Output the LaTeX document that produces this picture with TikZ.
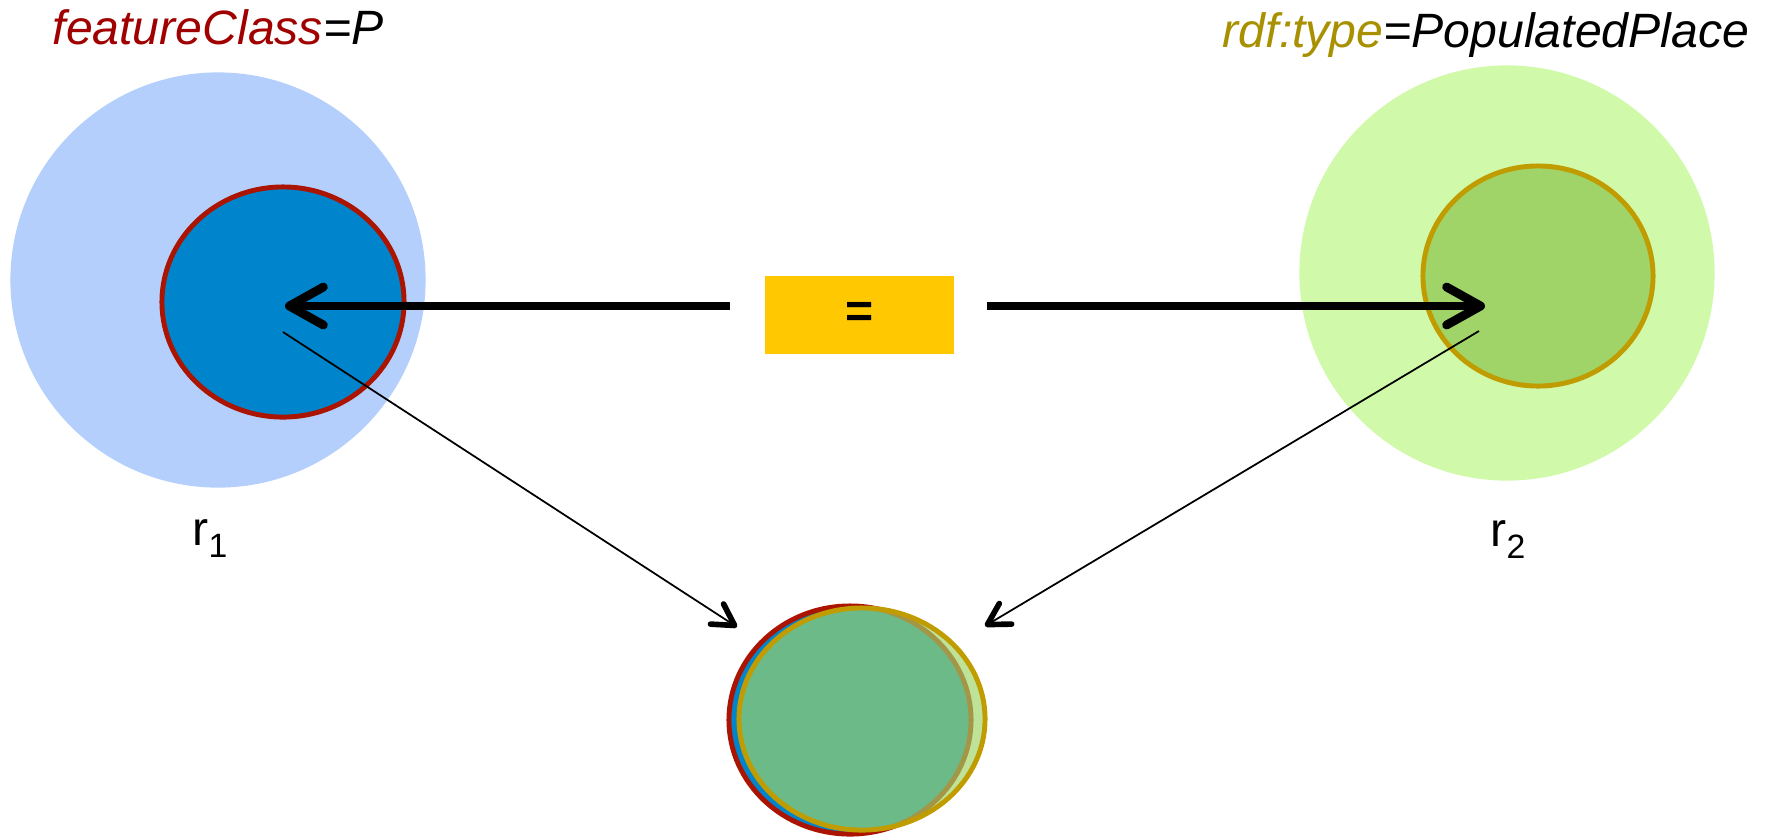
\documentclass[tikz,border=0pt]{standalone}
\usepackage{fontspec}
\setmainfont{Liberation Sans}
\usetikzlibrary{arrows.meta,positioning,shapes.geometric}
\definecolor{skyblue}{HTML}{B4CFFB}
\definecolor{seablue}{HTML}{0084CC}
\definecolor{brick}{HTML}{AA1400}
\definecolor{mint}{HTML}{D0FAAA}
\definecolor{leaf}{HTML}{A0D468}
\definecolor{ochre}{HTML}{C09C00}
\definecolor{amber}{HTML}{FFC800}
\definecolor{keyred}{HTML}{A00000}
\definecolor{keygold}{HTML}{A89000}
\newcommand{\setidx}[1]{\raisebox{-0.25em}{\fontsize{9.6}{10}\selectfont #1}}
\tikzset{
  halo/.style={circle, inner sep=0pt, minimum size=4.15cm},
  setblob/.style={ellipse, inner sep=0pt, line width=1.4pt},
  keytext/.style={inner sep=0pt, anchor=base, font=\fontsize{13.7}{16}\selectfont\itshape},
  settag/.style={inner sep=0pt, anchor=base, font=\fontsize{13.7}{16}\selectfont},
  eqbox/.style={fill=amber, inner sep=0pt, minimum width=1.89cm, minimum height=0.78cm,
                font=\fontsize{13.7}{16}\selectfont\bfseries},
  bigarrow/.style={-{Straight Barb[length=3.4mm, width=3.8mm, round]}, line width=2.5pt},
  thinarrow/.style={-{Straight Barb[length=2.1mm, width=2.4mm, round, line width=1.6pt]}, line width=0.5pt}
}
\begin{document}
\begin{tikzpicture}[x=0.01cm,y=-0.01cm]
  \useasboundingbox (0,0) rectangle (1769,838);

  % the two source records
  \node[halo, fill=skyblue] (haloone) at (218,280) {};
  \node[setblob, fill=seablue, draw=brick, minimum width=2.42cm, minimum height=2.30cm] (setone) at (283,302) {};
  \node[halo, fill=mint] (halotwo) at (1507,273) {};
  \node[setblob, fill=leaf, draw=ochre, minimum width=2.30cm, minimum height=2.20cm] (settwo) at (1538,276) {};

  % merged result
  \node[setblob, fill=seablue, draw=brick, minimum width=2.42cm, minimum height=2.28cm] (mixone) at (850,720) {};
  \node[setblob, fill=leaf, fill opacity=0.68, draw=ochre, draw opacity=1,
        minimum width=2.46cm, minimum height=2.22cm] (mixtwo) at (862,719) {};

  % labels
  \node[keytext] (keyone) at (218,44) {\textcolor{keyred}{featureClass}=P};
  \node[keytext] (keytwo) at (1486,47) {\textcolor{keygold}{rdf:type}=PopulatedPlace};
  \node[settag] (nameone) at (210,545) {r\setidx{1}};
  \node[settag] (nametwo) at (1508,546) {r\setidx{2}};

  \node[eqbox] (same) at (859.5,315) {=};

  % connectors
  \coordinate (tipone) at (285,306);
  \coordinate (tiptwo) at (1485,306);
  \coordinate (footone) at (283,332);
  \coordinate (foottwo) at (1479,331);
  \coordinate (landone) at (737,627);
  \coordinate (landtwo) at (985,626);
  \draw[bigarrow, shorten <=0.34cm] (same.west |- tipone) -- (tipone);
  \draw[bigarrow, shorten <=0.32cm] (same.east |- tiptwo) -- (tiptwo);
  \draw[thinarrow] (footone) -- (landone);
  \draw[thinarrow] (foottwo) -- (landtwo);
\end{tikzpicture}
\end{document}
